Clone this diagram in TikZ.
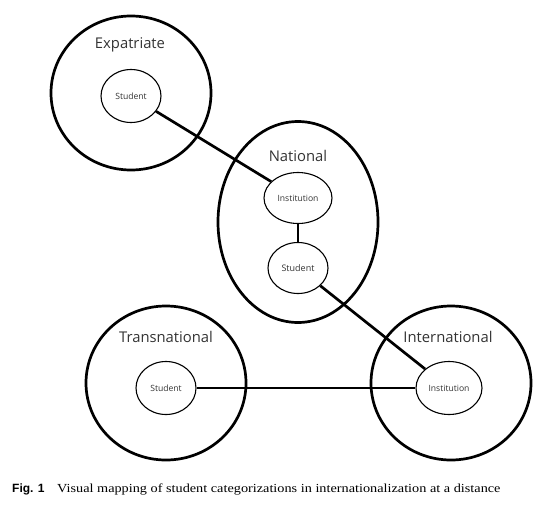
\documentclass[tikz,border=0pt]{standalone}
\usepackage{fontspec}
\setmainfont{Liberation Serif}
\newfontfamily\capserif[FakeStretch=1.16]{Liberation Serif}
\newfontfamily\labfont{Open Sans}
\newfontfamily\capsans{Liberation Sans}
\usetikzlibrary{shapes.geometric}
\begin{document}
\begin{tikzpicture}[x=1pt,y=-1pt,
  outer/.style={ellipse,draw,line width=2.7pt,inner sep=0pt},
  inner/.style={ellipse,draw,line width=1.1pt,inner sep=0pt,font=\labfont\fontsize{8.6}{10}\selectfont,text=black!80},
  grp/.style={font=\labfont\fontsize{14.8}{17}\selectfont,text=black!80},
  link/.style={line width=2.7pt}]
\useasboundingbox (0,0) rectangle (548,527);
% outer regions
\node[outer,minimum width=160pt,minimum height=154pt] (expO) at (131,93) {};
\node[outer,minimum width=160pt,minimum height=201pt] (natO) at (298,222) {};
\node[outer,minimum width=160pt,minimum height=154pt] (traO) at (166,383) {};
\node[outer,minimum width=160pt,minimum height=154pt] (intO) at (451,383) {};
% group labels
\node[grp] (expL) at (130,45) {Expatriate};
\node[grp] (natL) at (298,156) {National};
\node[grp] (traL) at (166,337) {Transnational};
\node[grp] (intL) at (448,337) {International};
% inner ellipses
\node[inner,minimum width=60pt,minimum height=53pt] (expS) at (131,96) {Student};
\node[inner,minimum width=68pt,minimum height=51pt] (natI) at (298,198) {Institution};
\node[inner,minimum width=60pt,minimum height=51pt,font=\labfont\fontsize{9}{10}\selectfont] (natS) at (298,268) {Student};
\node[inner,minimum width=60pt,minimum height=53pt] (traS) at (166,388) {Student};
\node[inner,minimum width=66pt,minimum height=53pt] (intI) at (449,388) {Institution};
% connectors
\draw[link] (expS) -- (natI);
\draw[link] (natI) -- (natS);
\draw[link] (natS) -- (intI);
\draw[link] (traS) -- (intI);
% caption
\node[anchor=base west,inner sep=0pt,font=\capsans\bfseries\fontsize{12}{14}\selectfont] (figno) at (12,492) {Fig. 1};
\node[anchor=base west,inner sep=0pt,font=\capserif\fontsize{12.3}{14}\selectfont] (cap) at (57,492) {Visual mapping of student categorizations in internationalization at a distance};
\end{tikzpicture}
\end{document}
